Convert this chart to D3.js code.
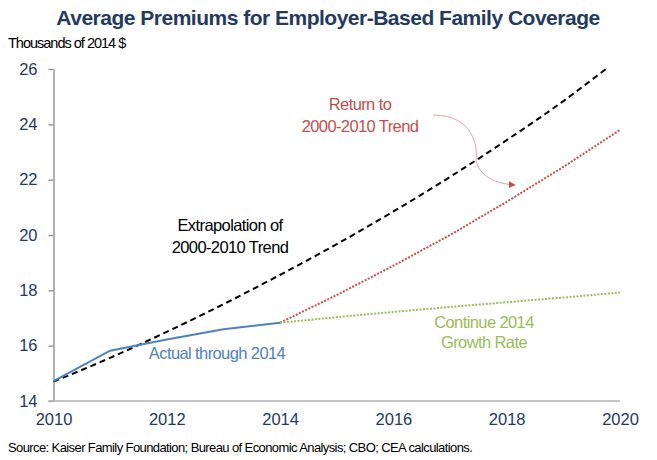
<!DOCTYPE html>
<html>
<head>
<meta charset="utf-8">
<script src="https://cdn.jsdelivr.net/npm/d3@7"></script>
<style>
  html, body { margin: 0; padding: 0; background: #fff; }
  svg { display: block; font-family: "Liberation Sans", Arial, sans-serif; }
</style>
</head>
<body>
<svg id="chart" width="657" height="460"></svg>
<script>
// ---- Data ----
const actualYears = [2010, 2011, 2012, 2013, 2014];
const actualValues = [14.72, 15.82, 16.22, 16.59, 16.83];

const trendYears = [2010, 2011, 2012, 2013, 2014, 2015, 2016, 2017, 2018, 2019, 2019.75];
const trendValues = [14.7, 15.56, 16.5, 17.5, 18.56, 19.67, 20.85, 22.1, 23.43, 24.84, 26.0];

const returnYears = [2014, 2015, 2016, 2017, 2018, 2019, 2020];
const returnValues = [16.83, 17.83, 18.89, 20.0, 21.2, 22.46, 23.8];

const continueYears = [2014, 2015, 2016, 2017, 2018, 2019, 2020];
const continueValues = [16.83, 17.03, 17.22, 17.4, 17.57, 17.74, 17.92];

const xTicks = [2010, 2012, 2014, 2016, 2018, 2020];
const yTicks = [14, 16, 18, 20, 22, 24, 26];

const titleText = "Average Premiums for Employer-Based Family Coverage";
const unitText = "Thousands of 2014 $";
const sourceText = "Source: Kaiser Family Foundation; Bureau of Economic Analysis; CBO; CEA calculations.";

// ---- Drawing ----
const svg = d3.select("#chart");
const navy = "#243a5e";
const x = d3.scaleLinear().domain([2010, 2020]).range([53.5, 620]);
const y = d3.scaleLinear().domain([14, 26]).range([401, 69]);

svg.append("text")
  .attr("x", 328).attr("y", 25)
  .attr("text-anchor", "middle")
  .attr("font-size", 21).attr("font-weight", "bold")
  .attr("fill", navy)
  .attr("letter-spacing", -0.5)
  .text(titleText);

svg.append("text")
  .attr("x", 8).attr("y", 48)
  .attr("font-size", 14.5).attr("fill", "#000")
  .attr("letter-spacing", -1)
  .text(unitText);

// y axis
const yAxis = d3.axisLeft(y).tickValues(yTicks).tickSize(5).tickPadding(11).tickSizeOuter(0);
const gy = svg.append("g").attr("transform", `translate(${x(2010)},0)`).call(yAxis);
gy.select(".domain").attr("stroke", "#8c8c8c").attr("stroke-width", 1.3);
gy.selectAll(".tick line").attr("stroke", "#8c8c8c").attr("stroke-width", 1.3);
gy.selectAll(".tick text").attr("fill", navy).attr("font-size", 16.5)
  .attr("font-family", "Liberation Sans, Arial, sans-serif");

// x axis
const xAxis = d3.axisBottom(x).tickValues(xTicks).tickSize(0).tickPadding(12).tickFormat(d3.format("d")).tickSizeOuter(0);
const gx = svg.append("g").attr("transform", `translate(0,${y(14)})`).call(xAxis);
gx.select(".domain").attr("stroke", "#b0b0b0").attr("stroke-width", 1.3)
  .attr("d", `M${x(2010) - 5},0H${x(2020)}`);
gx.selectAll(".tick text").attr("fill", navy).attr("font-size", 16.5)
  .attr("font-family", "Liberation Sans, Arial, sans-serif");

const line = d3.line().x(d => x(d[0])).y(d => y(d[1]));

svg.append("path")
  .datum(returnYears.map((yr, i) => [yr, returnValues[i]]))
  .attr("d", line).attr("fill", "none")
  .attr("stroke", "#c0504d").attr("stroke-width", 2).attr("stroke-dasharray", "2,1.5");

svg.append("path")
  .datum(continueYears.map((yr, i) => [yr, continueValues[i]]))
  .attr("d", line).attr("fill", "none")
  .attr("stroke", "#9bbb59").attr("stroke-width", 2).attr("stroke-dasharray", "2,1.5");

svg.append("path")
  .datum(trendYears.map((yr, i) => [yr, trendValues[i]]))
  .attr("d", d3.line().x(d => x(d[0])).y(d => y(d[1])).curve(d3.curveMonotoneX))
  .attr("fill", "none")
  .attr("stroke", "#000").attr("stroke-width", 2).attr("stroke-dasharray", "6,4");

svg.append("path")
  .datum(actualYears.map((yr, i) => [yr, actualValues[i]]))
  .attr("d", line).attr("fill", "none")
  .attr("stroke", "#4f81bd").attr("stroke-width", 2);

// annotations
function label(lines, cx, cy, color, gap) {
  const t = svg.append("text")
    .attr("x", cx).attr("y", cy)
    .attr("text-anchor", "middle")
    .attr("font-size", 16.5).attr("fill", color)
    .attr("letter-spacing", -0.6);
  lines.forEach((l, i) => {
    t.append("tspan").attr("x", cx).attr("dy", i === 0 ? 0 : gap).text(l);
  });
}
label(["Extrapolation of", "2000-2010 Trend"], 230, 231, "#000", 22);
label(["Actual through 2014"], 217, 359, "#4f81bd", 0);
label(["Return to", "2000-2010 Trend"], 360, 110, "#c0504d", 22);
label(["Continue 2014", "Growth Rate"], 484, 328, "#9bbb59", 20);

// arrow
svg.append("defs").append("marker")
  .attr("id", "arr").attr("viewBox", "0 0 10 10")
  .attr("refX", 9).attr("refY", 5)
  .attr("markerWidth", 7).attr("markerHeight", 7)
  .attr("markerUnits", "userSpaceOnUse")
  .attr("orient", "auto")
  .append("path").attr("d", "M0,0L10,5L0,10z").attr("fill", "#c0504d");

svg.append("path")
  .attr("d", "M433,115 C475,115 478,150 476,160 C478,175 495,184 515,185")
  .attr("fill", "none").attr("stroke", "#e6a3a1").attr("stroke-width", 1)
  .attr("marker-end", "url(#arr)");

svg.append("text")
  .attr("x", 8).attr("y", 452)
  .attr("font-size", 13).attr("fill", "#000")
  .attr("letter-spacing", -0.6)
  .text(sourceText);
</script>
</body>
</html>
